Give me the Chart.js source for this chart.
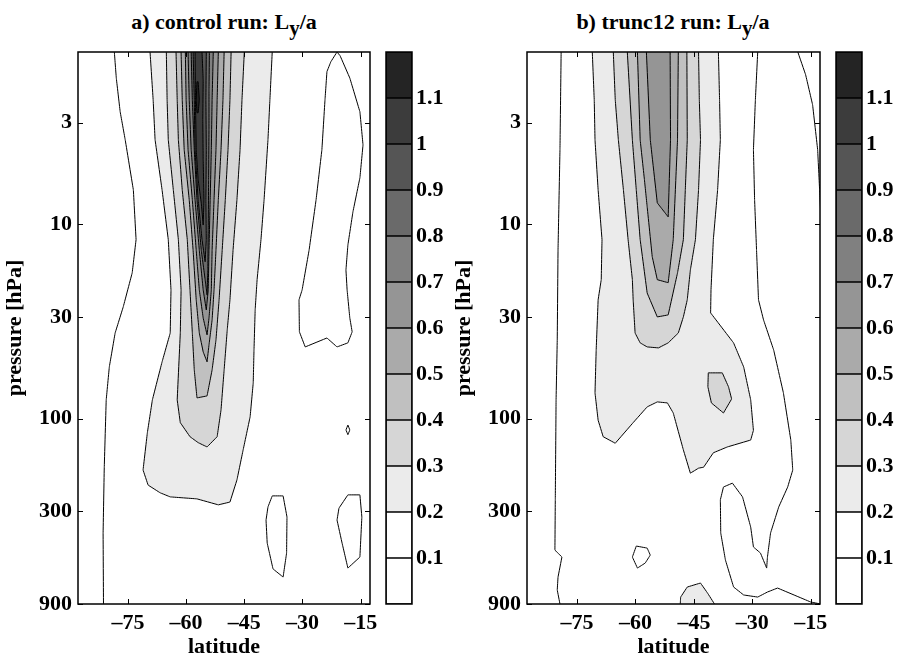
<!DOCTYPE html>
<html>
<head>
<meta charset="utf-8">
<script src="https://cdn.jsdelivr.net/npm/chart.js@4.4.1/dist/chart.umd.min.js"></script>
<style>
  body { margin: 0; background: #fff; width: 898px; height: 661px; position: relative; overflow: hidden; }
  canvas { position: absolute; top: 0; }
  .ttl { position: absolute; top: 9px; transform: translateX(-50%); white-space: nowrap;
         font: bold 22px 'Liberation Serif', 'Times New Roman', serif; line-height: 25px; }
  .ttl sub { font-size: 21px; vertical-align: -6px; line-height: 1; }
</style>
</head>
<body>
<div class="ttl" style="left:224px">a) control run: L<sub>y</sub>/a</div>
<div class="ttl" style="left:673px">b) trunc12 run: L<sub>y</sub>/a</div>
<canvas id="ctrlChart" style="left:0" width="380" height="661"></canvas>
<canvas id="ctrlBar" style="left:380px" width="68" height="661"></canvas>
<canvas id="truncChart" style="left:449px" width="381" height="661"></canvas>
<canvas id="truncBar" style="left:830px" width="68" height="661"></canvas>
<script>
// ---- axes ----
const latRange = [-87.87, -12.6];
const pressureRange = [1.3, 900];
const latTicks = [-75, -60, -45, -30, -15];
const pressureTicks = [3, 10, 30, 100, 300, 900];

// ---- colour bar: band edges and grey per band ----
const bandEdges = [0, 0.1, 0.2, 0.3, 0.4, 0.5, 0.6, 0.7, 0.8, 0.9, 1.0, 1.1, 1.2];
const bandColors = ['#ffffff', '#ffffff', '#ebebeb', '#d6d6d6', '#c0c0c0', '#aaaaaa',
                    '#959595', '#808080', '#6a6a6a', '#555555', '#3c3c3c', '#242424'];
const colorbarTicks = [0.1, 0.2, 0.3, 0.4, 0.5, 0.6, 0.7, 0.8, 0.9, 1.0, 1.1];

// ---- control run contours, [latitude, pressure hPa] ----
const ctrlWest01 = [[-78.5,1.3],[-78.0,1.77],[-77.0,2.64],[-75.7,3.68],[-73.6,6.66],[-72.9,12.0],[-73.9,17.8],
  [-76.2,26.6],[-78.3,36.3],[-79.8,54.3],[-80.6,80.2],[-81.1,178],[-81.4,388],[-81.3,900]];
const ctrlEast01 = [[-21.1,1.3],[-22.7,1.46],[-23.7,1.64],[-24.2,2.29],[-25.0,4.14],[-26.5,7.49],[-28.3,13.6],
  [-30.1,21.8],[-30.9,24.5],[-30.8,35.8],[-29.3,42.8],[-23.7,38.5],[-21.1,42.8],[-18.3,40.8],[-17.2,35.8],
  [-17.8,30.4],[-18.5,21.8],[-18.8,17.2],[-18.3,12.8],[-17.0,8.64],[-15.2,5.77],[-14.4,3.91],[-15.2,2.64],
  [-17.8,1.77],[-20.3,1.36],[-21.1,1.3]];
const ctrlDot01 = [[-18.3,108],[-17.8,114.5],[-18.3,121],[-18.8,114.5],[-18.3,108]];
const ctrlLowA01 = [[-37.8,250],[-35.0,250],[-34.0,321],[-34.1,492],[-35.0,654],[-37.6,594],[-39.1,437],
  [-39.4,333],[-38.9,285],[-37.8,250]];
const ctrlLowB01 = [[-18.3,247],[-15.2,247],[-14.7,321],[-15.2,516],[-18.3,588],[-19.8,437],[-21.1,333],
  [-20.6,289],[-18.3,247]];
const ctrl02 = [[-69.3,1.3],[-68.5,2.29],[-68.0,3.68],[-66.2,6.66],[-64.6,12.0],[-63.9,21.8],[-64.1,36.3],
  [-66.2,51.1],[-68.7,80.2],[-70.0,118.6],[-71.1,184],[-69.8,220],[-66.7,241],[-64.1,253],[-57.2,259],
  [-51.7,278],[-48.7,269],[-46.9,207],[-45.3,145],[-43.5,98],[-42.7,65.6],[-42.5,44.4],[-42.2,27.6],
  [-41.7,19.3],[-40.7,12.0],[-39.9,7.49],[-38.9,3.68],[-38.4,2.29],[-37.8,1.3]];
const ctrl03 = [[-65.1,1.3],[-64.9,2.29],[-64.6,3.68],[-63.3,6.66],[-62.0,12.0],[-61.3,21.8],[-61.5,36.3],
  [-62.3,80.2],[-61.5,105],[-59.0,124],[-56.9,133],[-54.6,140],[-52.0,124],[-51.0,90.3],[-50.2,56.2],
  [-49.4,35.0],[-48.7,24.5],[-47.9,13.6],[-46.9,7.49],[-46.1,4.14],[-45.6,2.29],[-45.0,1.3]];
const ctrl04 = [[-62.6,1.3],[-62.3,2.29],[-62.0,3.68],[-61.0,6.66],[-59.7,12.0],[-59.0,21.8],[-58.4,36.3],
  [-57.9,56.2],[-57.2,78.3],[-54.6,76.5],[-53.3,56.2],[-52.3,39.4],[-51.5,24.5],[-50.7,13.6],[-49.9,7.49],
  [-49.2,4.14],[-48.7,2.29],[-48.4,1.3]];
const ctrl05 = [[-61.3,1.3],[-61.0,2.29],[-60.5,4.14],[-59.2,7.49],[-58.2,13.6],[-57.4,24.5],[-56.6,36.3],
  [-55.6,45.4],[-54.6,51.1],[-54.1,41.8],[-53.3,31.1],[-52.8,21.8],[-52.3,13.6],[-51.7,7.49],[-51.0,4.14],
  [-50.5,2.29],[-50.2,1.3]];
const ctrl06 = [[-60.2,1.3],[-60.0,2.29],[-59.5,4.14],[-58.4,7.49],[-57.4,13.6],[-56.6,21.8],[-55.6,30.4],
  [-54.6,37.1],[-54.1,30.4],[-53.5,21.8],[-53.3,13.6],[-52.8,7.49],[-52.3,4.14],[-52.0,2.29],[-51.7,1.3]];
const ctrl07 = [[-59.5,1.3],[-59.2,2.29],[-58.7,4.14],[-57.7,7.49],[-56.6,13.6],[-55.6,21.8],[-54.8,27.6],
  [-54.3,21.8],[-54.1,13.6],[-53.8,7.49],[-53.5,4.14],[-53.3,2.29],[-53.0,1.3]];
const ctrl08 = [[-58.7,1.3],[-58.4,2.29],[-57.9,4.14],[-57.2,7.49],[-56.1,13.6],[-55.1,19.3],[-54.6,23.1],
  [-54.4,17.2],[-54.3,10.7],[-54.2,5.91],[-54.1,3.27],[-54.1,2.04],[-54.0,1.3]];
const ctrl09 = [[-58.2,1.3],[-57.9,2.29],[-57.7,4.14],[-56.9,7.49],[-55.9,12.0],[-55.1,15.6],[-54.8,12.0],
  [-54.9,7.49],[-54.8,4.14],[-54.9,2.29],[-54.8,1.3]];
const ctrl10 = [[-57.7,1.3],[-57.6,2.29],[-57.4,4.14],[-56.9,5.91],[-56.1,7.77],[-55.6,10.1],[-55.4,7.49],
  [-55.6,4.67],[-55.7,2.9],[-55.6,1.81],[-55.9,1.3]];
const ctrl11 = [[-57.2,1.85],[-56.9,1.85],[-56.6,2.29],[-56.9,2.67],[-57.2,2.67],[-57.4,2.29],[-57.2,1.85]];

// ---- trunc12 run contours ----
const truncWest01 = [[-79.1,1.3],[-79.4,4.14],[-79.9,13.6],[-80.1,39.4],[-80.4,80.2],[-80.6,262],[-80.7,475],
  [-78.9,516],[-79.9,654],[-80.1,762],[-79.4,900]];
const truncEast01 = [[-28.6,1.3],[-29.2,2.29],[-29.7,4.14],[-29.4,7.49],[-28.9,13.6],[-28.4,24.5],[-27.1,31.1],
  [-24.5,44.4],[-22.0,73.8],[-20.1,129],[-19.6,184],[-20.9,225],[-23.2,285],[-25.3,388],[-26.1,516],
  [-26.3,588],[-27.9,492],[-29.7,458],[-30.4,362],[-32.5,253],[-35.1,215],[-37.4,225],[-38.2,262],
  [-38.1,388],[-36.9,534],[-34.8,736],[-32.2,809],[-28.6,829],[-26.1,781],[-23.5,745],[-15.0,879],[-12.4,900]];
const truncCorner01 = [[-18.3,1.3],[-16.3,1.7],[-14.5,2.43],[-13.2,4.14],[-12.7,6.66],[-12.4,8.95]];
const truncDot01 = [[-59.8,453],[-57.0,464],[-56.2,504],[-57.5,554],[-59.5,588],[-60.8,516],[-59.8,453]];
const trunc02 = [[-71.1,1.3],[-70.6,2.29],[-70.4,3.68],[-69.6,6.66],[-68.6,12.0],[-68.8,19.3],[-69.6,24.5],
  [-70.1,44.4],[-70.4,73.8],[-69.6,102],[-68.3,124],[-65.2,134],[-60.6,105],[-57.0,87.1],[-54.4,82.1],
  [-51.8,83.1],[-50.3,93.6],[-47.7,145],[-45.9,191],[-43.8,180],[-42.5,178],[-40.0,150],[-36.4,140],
  [-30.4,129],[-29.7,115],[-30.4,80.2],[-32.2,54.3],[-34.8,40.8],[-40.7,28.6],[-40.6,21.8],[-40.0,12.0],
  [-38.9,6.66],[-38.2,3.68],[-38.4,2.29],[-38.7,1.3]];
const trunc02South = [[-48.5,900],[-48.4,829],[-46.7,736],[-43.3,702],[-41.5,790],[-39.7,900]];
const trunc03 = [[-65.7,1.3],[-65.2,2.29],[-64.4,3.68],[-63.1,6.66],[-61.9,12.0],[-60.8,19.3],[-60.6,24.5],
  [-60.1,36.3],[-58.8,40.8],[-57.0,42.8],[-54.1,43.3],[-51.6,40.8],[-49.0,36.3],[-47.7,30.0],[-46.7,24.5],
  [-45.9,17.2],[-44.6,12.0],[-43.8,6.66],[-43.3,3.68],[-43.6,2.29],[-43.8,1.3]];
const trunc03Spot = [[-41.3,58.2],[-37.7,58.2],[-36.1,68.7],[-35.3,79.3],[-37.4,93.6],[-40.5,83.1],
  [-41.4,68.7],[-41.3,58.2]];
const trunc04 = [[-62.1,1.3],[-60.8,3.68],[-59.8,6.66],[-58.8,12.0],[-57.0,22.6],[-54.4,30.0],[-51.6,29.3],
  [-49.2,17.8],[-47.7,12.0],[-47.2,6.66],[-46.7,3.68],[-46.8,1.3]];
const trunc05 = [[-59.5,1.3],[-58.8,3.68],[-57.7,5.91],[-57.0,8.14],[-55.7,14.7],[-54.4,19.3],[-51.6,20.0],
  [-50.3,12.0],[-49.2,3.68],[-49.0,1.3]];
const trunc06 = [[-57.2,1.3],[-56.2,3.68],[-54.4,7.77],[-51.6,9.17],[-51.0,3.68],[-51.1,1.3]];

const ctrlContours = [
  [0.1, ctrlWest01], [0.1, ctrlEast01], [0.1, ctrlDot01], [0.1, ctrlLowA01], [0.1, ctrlLowB01],
  [0.2, ctrl02], [0.3, ctrl03], [0.4, ctrl04], [0.5, ctrl05], [0.6, ctrl06],
  [0.7, ctrl07], [0.8, ctrl08], [0.9, ctrl09], [1.0, ctrl10], [1.1, ctrl11]
];
const truncContours = [
  [0.1, truncWest01], [0.1, truncEast01], [0.1, truncCorner01], [0.1, truncDot01],
  [0.2, trunc02], [0.2, trunc02South], [0.3, trunc03], [0.3, trunc03Spot],
  [0.4, trunc04], [0.5, trunc05], [0.6, trunc06]
];

const serif = "'Liberation Serif', 'Times New Roman', serif";
const boldFont = { family: serif, size: 22, weight: 'bold' };

// frame round the plot area plus inward tick marks
const framePlugin = {
  id: 'frame',
  afterDraw(chart, args, opts) {
    const { ctx, chartArea: a } = chart;
    ctx.save();
    ctx.strokeStyle = '#000';
    if (opts.ticks) {
      const xs = chart.scales.x, ys = chart.scales.y;
      ctx.lineWidth = 1;
      ctx.beginPath();
      xs.ticks.forEach(t => {
        const px = Math.round(xs.getPixelForValue(t.value)) + 0.5;
        ctx.moveTo(px, a.bottom); ctx.lineTo(px, a.bottom - 5);
        ctx.moveTo(px, a.top); ctx.lineTo(px, a.top + 5);
      });
      ys.ticks.forEach(t => {
        const py = Math.round(ys.getPixelForValue(t.value)) + 0.5;
        ctx.moveTo(a.left, py); ctx.lineTo(a.left + 5, py);
        ctx.moveTo(a.right, py); ctx.lineTo(a.right - 5, py);
      });
      ctx.stroke();
    }
    ctx.lineWidth = 1.5;
    ctx.strokeRect(a.left, a.top, a.right - a.left, a.bottom - a.top);
    ctx.restore();
  }
};

function makeContourChart(canvasId, contours, rightPad) {
  const datasets = contours.map(([level, pts]) => ({
    data: pts.map(([lat, p]) => ({ x: lat, y: p })),
    showLine: true,
    fill: level >= 0.2 ? 'shape' : false,
    backgroundColor: bandColors[Math.round(level * 10)],
    borderColor: '#000',
    borderWidth: 1,
    pointRadius: 0,
    tension: 0.0001, // keeps Chart.js off its column-merging fast path
    order: Math.round((2 - level) * 10)
  }));

  return new Chart(document.getElementById(canvasId), {
    type: 'scatter',
    data: { datasets },
    options: {
      responsive: false,
      animation: false,
      devicePixelRatio: 1,
      layout: { padding: { top: 52, right: rightPad, left: 0, bottom: 0 } },
      plugins: { legend: { display: false }, tooltip: { enabled: false }, frame: { ticks: true } },
      scales: {
        x: {
          type: 'linear',
          min: latRange[0],
          max: latRange[1],
          afterBuildTicks: s => { s.ticks = latTicks.map(v => ({ value: v })); },
          afterFit: s => { s.height = 57; s.paddingLeft = 0; s.paddingRight = 0; },
          grid: { display: false, drawTicks: false },
          border: { display: false },
          ticks: {
            color: '#000', font: boldFont, padding: 6, maxRotation: 0, autoSkip: false,
            callback: v => (v < 0 ? '\u2013' + Math.abs(v) : String(v))
          },
          title: { display: true, text: 'latitude', color: '#000', font: boldFont, padding: { top: 0, bottom: 0 } }
        },
        y: {
          type: 'logarithmic',
          reverse: true,
          min: pressureRange[0],
          max: pressureRange[1],
          afterBuildTicks: s => { s.ticks = pressureTicks.map(v => ({ value: v })); },
          afterFit: s => { s.width = 78; s.paddingTop = 0; s.paddingBottom = 0; },
          grid: { display: false, drawTicks: false },
          border: { display: false },
          ticks: { color: '#000', font: boldFont, padding: 6, autoSkip: false, callback: v => String(v) },
          title: { display: true, text: 'pressure [hPa]', color: '#000', font: boldFont, padding: { top: 2, bottom: 0 } }
        }
      }
    },
    plugins: [framePlugin]
  });
}

function makeColorbar(canvasId) {
  const datasets = bandColors.map((c, i) => ({
    data: [[bandEdges[i], bandEdges[i + 1]]],
    backgroundColor: c,
    borderColor: '#000',
    borderWidth: 1,
    borderSkipped: false,
    barPercentage: 1,
    categoryPercentage: 1,
    grouped: false
  }));

  return new Chart(document.getElementById(canvasId), {
    type: 'bar',
    data: { labels: [''], datasets },
    options: {
      responsive: false,
      animation: false,
      devicePixelRatio: 1,
      layout: { padding: { top: 52, bottom: 57, left: 6, right: 0 } },
      plugins: { legend: { display: false }, tooltip: { enabled: false }, frame: { ticks: false } },
      scales: {
        x: { display: false },
        y: {
          position: 'right',
          min: bandEdges[0],
          max: bandEdges[bandEdges.length - 1],
          afterBuildTicks: s => { s.ticks = colorbarTicks.map(v => ({ value: v })); },
          afterFit: s => { s.width = 36; s.paddingTop = 0; s.paddingBottom = 0; },
          grid: { display: false, drawTicks: false },
          border: { display: false },
          ticks: { color: '#000', font: boldFont, padding: 4, autoSkip: false, callback: v => String(+v.toFixed(1)) }
        }
      }
    },
    plugins: [framePlugin]
  });
}

makeContourChart('ctrlChart', ctrlContours, 10);
makeColorbar('ctrlBar');
makeContourChart('truncChart', truncContours, 10);
makeColorbar('truncBar');
</script>
</body>
</html>
